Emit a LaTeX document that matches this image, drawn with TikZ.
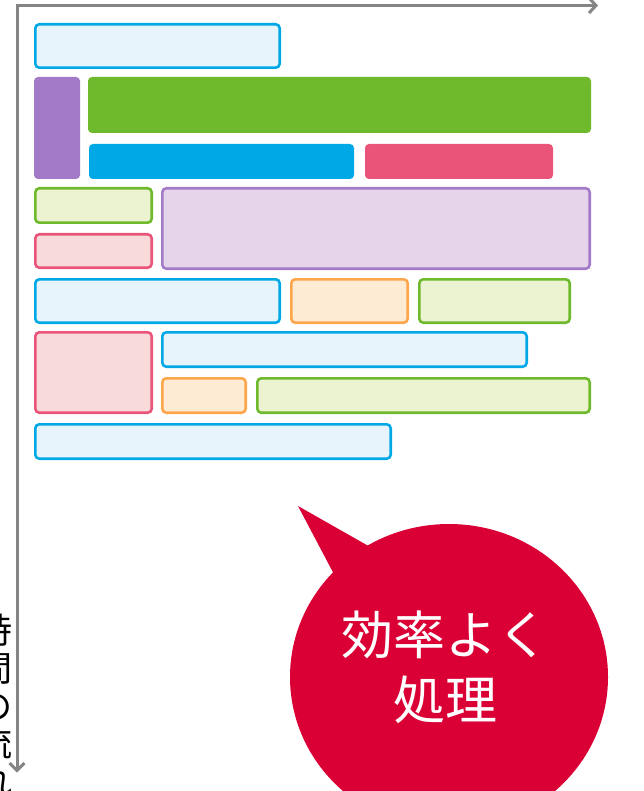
\documentclass[tikz,border=0pt]{standalone}
\usepackage{fontspec}
\newfontfamily\cjk{Noto Sans CJK JP}
\usetikzlibrary{shapes.geometric}
\definecolor{cy}{HTML}{00A9E6}
\definecolor{cyl}{HTML}{E8F4FB}
\definecolor{gr}{HTML}{6FB92C}
\definecolor{grl}{HTML}{EBF3D1}
\definecolor{pu}{HTML}{A27AC7}
\definecolor{pul}{HTML}{E6D5EA}
\definecolor{pk}{HTML}{EA5479}
\definecolor{pkl}{HTML}{F8DADA}
\definecolor{og}{HTML}{FFA64D}
\definecolor{ogl}{HTML}{FDEBD3}
\definecolor{bred}{HTML}{DA0035}
\definecolor{axis}{HTML}{858585}
\tikzset{
  bx/.style={rectangle, rounded corners=4pt, anchor=north west, inner sep=0pt, outer sep=0pt},
  ob/.style={bx, line width=2.6pt},
  lbbox/.style={ob, draw=cy, fill=cyl},
  lgbox/.style={ob, draw=gr, fill=grl},
  lpbox/.style={ob, draw=pu, fill=pul},
  lkbox/.style={ob, draw=pk, fill=pkl},
  lobox/.style={ob, draw=og, fill=ogl},
  solidbx/.style={bx, line width=0pt},
  axisline/.style={draw=axis, line width=3pt},
  chev/.style={draw=axis, line width=3pt, line cap=butt, line join=miter},
}
\newcommand{\myoutbox}[6]{% style, name, x1, y1, x2, y2
  \node[#1, minimum width={(#5-#3-2.6)*1pt}, minimum height={(#6-#4-2.6)*1pt}] (#2) at ({#3+1.3},{#4+1.3}) {};}
\newcommand{\mysolidbox}[6]{%
  \node[solidbx, fill=#1, minimum width={(#5-#3)*1pt}, minimum height={(#6-#4)*1pt}] (#2) at (#3,#4) {};}
\begin{document}
\begin{tikzpicture}[x=1pt,y=-1pt]
\useasboundingbox (0,0) rectangle (643,791);
\begin{scope}
\clip (0,0) rectangle (643,791);
% axes
\coordinate (origin) at (17,5.5);
\coordinate (xend) at (596,5.5);
\coordinate (yend) at (17,771);
\draw[axisline] (origin) -- (xend);
\draw[axisline] (17,4) -- (yend);
\draw[chev] (589,-2) -- (596,5.5) -- (589,13);
\draw[chev] (9.5,763) -- (17,770.5) -- (24.5,763);
% vertical label
\node[inner sep=0pt, align=center, font={\cjk\fontsize{35}{37.7}\selectfont}] (tlabel) at (-5,705) {時\\間\\の\\流\\れ};
% boxes
\myoutbox{lbbox}{b1}{34}{23}{281}{69}
\mysolidbox{pu}{b2}{34}{77}{80}{179}
\mysolidbox{gr}{b3}{88}{77}{591}{133}
\mysolidbox{cy}{b4}{89}{144}{354}{179}
\mysolidbox{pk}{b5}{365}{144}{553}{179}
\myoutbox{lgbox}{b6}{34}{187}{153}{224}
\myoutbox{lpbox}{b7}{161}{187}{591}{270}
\myoutbox{lkbox}{b8}{34}{233}{153}{269}
\myoutbox{lbbox}{b9}{34}{278}{281}{324}
\myoutbox{lobox}{b10}{290}{278}{409}{324}
\myoutbox{lgbox}{b11}{418}{278}{571}{324}
\myoutbox{lkbox}{b12}{34}{331}{153}{414}
\myoutbox{lbbox}{b13}{161}{331}{528}{368}
\myoutbox{lobox}{b14}{161}{377}{247}{414}
\myoutbox{lgbox}{b15}{256}{377}{591}{414}
\myoutbox{lbbox}{b16}{34}{423}{392}{460}
% bubble
\node[ellipse, fill=bred, inner sep=0pt, minimum width=318pt, minimum height=306pt] (bubble) at (449,677) {};
\coordinate (tip) at (298,506);
\fill[bred] (tip) -- (372,548) -- (336,578) -- cycle;
\node[text=white, align=center, inner sep=0pt, font={\cjk\fontsize{52}{65}\selectfont}] (btext) at (445,667) {効率よく\\処理};
\end{scope}
\end{tikzpicture}
\end{document}
